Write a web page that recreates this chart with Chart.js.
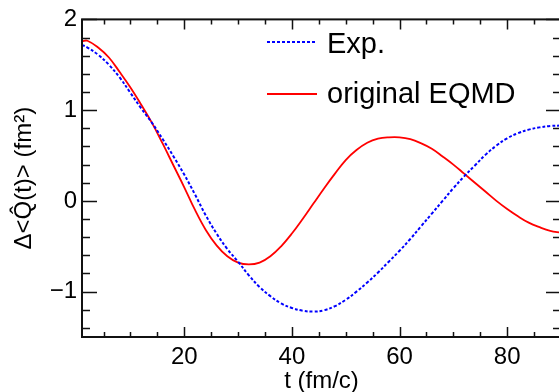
<!DOCTYPE html>
<html>
<head>
<meta charset="utf-8">
<script src="https://cdn.jsdelivr.net/npm/chart.js@4.4.0/dist/chart.umd.min.js"></script>
<style>
html, body { margin: 0; padding: 0; background: #fff; overflow: hidden; }
</style>
</head>
<body>
<canvas id="mychart" width="561" height="392"></canvas>
<script>
// t (fm/c)
const times = [1, 2, 4, 6, 8, 10, 12, 14, 16, 18, 20, 22, 24, 26, 28, 30, 32, 34, 36, 38, 40, 42, 44, 46, 48, 50,
  52, 54, 56, 58, 60, 62, 64, 66, 68, 70, 72, 74, 76, 78, 80, 82, 84, 86, 88, 90]
const expVals = [1.72, 1.69, 1.61, 1.50, 1.36, 1.19, 1.02, 0.86, 0.68, 0.49, 0.29, 0.07, -0.16, -0.36, -0.53, -0.67,
  -0.82, -0.95, -1.05, -1.13, -1.18, -1.21, -1.22, -1.205, -1.16, -1.09, -1.00, -0.90, -0.79, -0.67, -0.55, -0.42,
  -0.28, -0.14, 0.00, 0.14, 0.27, 0.39, 0.51, 0.61, 0.69, 0.745, 0.785, 0.81, 0.825, 0.83]
const eqmdVals = [1.76, 1.765, 1.69, 1.58, 1.42, 1.25, 1.06, 0.86, 0.63, 0.39, 0.15, -0.10, -0.32, -0.49, -0.61, -0.68,
  -0.70, -0.68, -0.61, -0.50, -0.36, -0.20, -0.03, 0.14, 0.30, 0.45, 0.56, 0.64, 0.685, 0.70, 0.70, 0.68,
  0.635, 0.575, 0.49, 0.40, 0.30, 0.20, 0.10, 0.00, -0.09, -0.17, -0.24, -0.29, -0.33, -0.35]
const seriesNames = ['Exp.', 'original EQMD']
const xTicks = [20, 40, 60, 80]
const yTicks = [-1, 0, 1, 2]

const FONT = "'Liberation Sans', Arial, sans-serif"

// frame with inward ticks on all four sides
const frame = {
  id: 'frame',
  afterDatasetsDraw(chart) {
    const { ctx, chartArea: a, scales: { x, y } } = chart
    ctx.save()
    ctx.strokeStyle = '#111'
    ctx.lineWidth = 2
    ctx.strokeRect(a.left, a.top, a.right - a.left, a.bottom - a.top)
    ctx.lineWidth = 1.5
    ctx.beginPath()
    for (let v = 5; v <= 90; v += 5) {
      const px = Math.round(x.getPixelForValue(v)) + 0.5
      const len = v % 20 == 0 ? 10 : 5
      ctx.moveTo(px, a.bottom); ctx.lineTo(px, a.bottom - len)
      ctx.moveTo(px, a.top); ctx.lineTo(px, a.top + len)
    }
    for (let i = -7; i <= 10; i++) {
      const v = i / 5
      const py = Math.round(y.getPixelForValue(v)) + 0.5
      const len = i % 5 == 0 ? 15 : 8
      ctx.moveTo(a.left, py); ctx.lineTo(a.left + len, py)
      ctx.moveTo(a.right, py); ctx.lineTo(a.right - len, py)
    }
    ctx.stroke()
    ctx.restore()
  },
  afterDraw(chart) {
    const ctx = chart.ctx
    ctx.save()
    ctx.font = '29px ' + FONT
    ctx.fillStyle = '#000'
    ctx.textBaseline = 'alphabetic'
    const rows = [[42, 53], [94, 103]]
    chart.data.datasets.forEach((ds, i) => {
      ctx.strokeStyle = ds.borderColor
      ctx.lineWidth = ds.borderWidth
      ctx.setLineDash(ds.borderDash || [])
      ctx.beginPath()
      ctx.moveTo(267, rows[i][0]); ctx.lineTo(317, rows[i][0])
      ctx.stroke()
      ctx.setLineDash([])
      ctx.fillText(ds.label, 327, rows[i][1])
    })
    ctx.restore()
  }
}

const ctx = document.getElementById('mychart').getContext('2d')
const chart = new Chart(ctx, {
  type: 'line',
  data: {
    datasets: [
      {
        label: seriesNames[0],
        data: times.map((t, i) => ({ x: t, y: expVals[i] })),
        borderColor: '#0000ff',
        borderWidth: 2,
        borderDash: [3, 2],
        pointRadius: 0,
        tension: 0.4,
        fill: false
      },
      {
        label: seriesNames[1],
        data: times.map((t, i) => ({ x: t, y: eqmdVals[i] })),
        borderColor: '#ff0000',
        borderWidth: 1.8,
        pointRadius: 0,
        tension: 0.4,
        fill: false
      }
    ]
  },
  options: {
    responsive: false,
    animation: false,
    devicePixelRatio: 1,
    layout: { padding: { top: 13, right: 0, left: 0, bottom: 0 } },
    plugins: { legend: { display: false }, tooltip: { enabled: false } },
    scales: {
      x: {
        type: 'linear',
        min: 1,
        max: 90,
        grid: { display: false, drawTicks: false },
        border: { display: false },
        afterBuildTicks: s => { s.ticks = xTicks.map(v => ({ value: v })) },
        afterFit: s => { s.height = 55 },
        ticks: { color: '#000', font: { family: FONT, size: 24 }, padding: 6, maxRotation: 0 },
        title: { display: true, text: 't (fm/c)', color: '#000', font: { family: FONT, size: 24 }, padding: { top: 0, bottom: -4 } }
      },
      y: {
        min: -1.5,
        max: 2,
        grid: { display: false, drawTicks: false },
        border: { display: false },
        afterBuildTicks: s => { s.ticks = yTicks.map(v => ({ value: v })) },
        afterFit: s => { s.width = 82 },
        ticks: {
          color: '#000', font: { family: FONT, size: 24 }, padding: 5,
          callback: v => v < 0 ? '\u2212' + Math.abs(v) : String(v)
        },
        title: { display: true, text: '\u0394<Q\u0302(t)> (fm\u00b2)', color: '#000', font: { family: FONT, size: 24 }, padding: { top: 10, bottom: 0 } }
      }
    }
  },
  plugins: [frame]
})
</script>
</body>
</html>
